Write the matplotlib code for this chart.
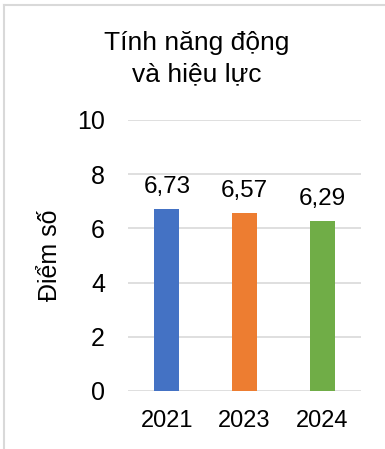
import matplotlib
matplotlib.use("Agg")
from matplotlib import pyplot as plt
from matplotlib.lines import Line2D

years = ['2021', '2023', '2024']
scores = [6.73, 6.57, 6.29]
labels = ['6,73', '6,57', '6,29']
colors = ['#4472C4', '#ED7D31', '#70AD47']

plt.rcParams['font.family'] = ['Liberation Sans', 'DejaVu Sans']

W, H = 385, 449
fig = plt.figure(figsize=(W / 100, H / 100), dpi=100)
ax = fig.add_axes([128 / W, 58 / H, 233 / W, 271 / H])

x = range(len(years))
ax.bar(x, scores, width=0.32, color=colors, zorder=3)
for i, v in enumerate(scores):
	ax.annotate(labels[i], (i, v), xytext=(0, 11.5), textcoords='offset points',
		ha='center', va='baseline', fontsize=17.5, color='#000000')

ax.set_xlim(-0.5, 2.5)
ax.set_ylim(0, 10)
ax.set_yticks([0, 2, 4, 6, 8, 10])
ax.set_xticks(list(x))
ax.set_xticklabels(years)
ax.tick_params(axis='y', length=0, pad=16.5, labelsize=18)
ax.tick_params(axis='x', length=0, pad=14, labelsize=17)
for s in ax.spines.values():
	s.set_visible(False)
ax.grid(axis='y', color='#d9d9d9', linewidth=1.2, zorder=0)
ax.set_axisbelow(True)

# title and axis label placed on the figure
fig.text(197 / W, 1 - 50 / H, 'Tính năng động', ha='center', va='baseline', fontsize=19)
fig.text(197 / W, 1 - 81 / H, 'và hiệu lực', ha='center', va='baseline', fontsize=19)
fig.text(50 / W, 1 - 255 / H, 'Điểm số', rotation=90, ha='center', va='center', fontsize=18)

# light frame round the chart
fig.add_artist(Line2D([4 / W, 1], [1 - 5 / H, 1 - 5 / H], color='#d9d9d9', linewidth=1.5))
fig.add_artist(Line2D([4 / W, 4 / W], [0, 1 - 5 / H], color='#d9d9d9', linewidth=1.5))

fig.savefig('out.png', dpi=100)
